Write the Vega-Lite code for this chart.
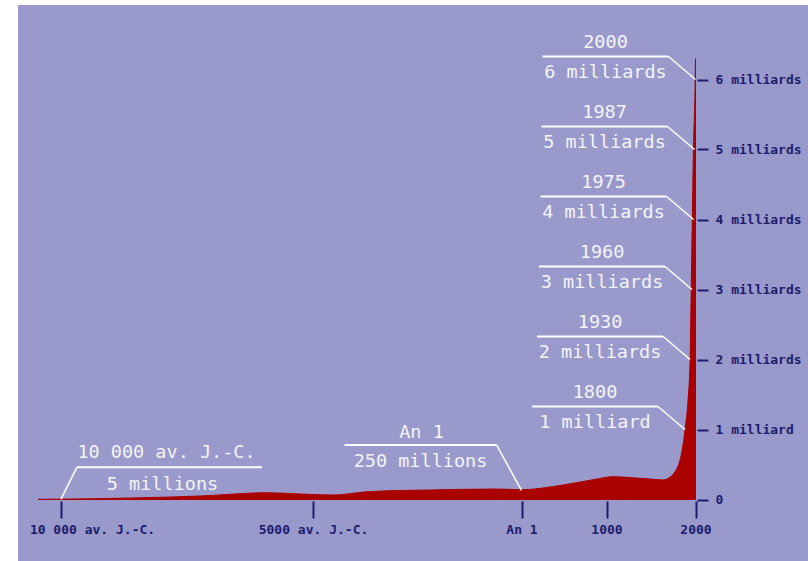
{
  "$schema": "https://vega.github.io/schema/vega-lite/v6.json",
  "width": 790,
  "height": 556,
  "autosize": {"type": "none"},
  "padding": {"left": 18, "top": 5, "right": 0, "bottom": 0},
  "background": "#ffffff",
  "config": {
    "view": {"fill": "#9999cc", "stroke": null},
    "axis": {"grid": false, "domain": false}
  },
  "datasets": {
    "population": [
      {"year": -10450, "pop": 3000000},
      {"year": -10000, "pop": 5000000},
      {"year": -8630, "pop": 21000000},
      {"year": -7240, "pop": 50000000},
      {"year": -5910, "pop": 97000000},
      {"year": -5260, "pop": 79000000},
      {"year": -4520, "pop": 64000000},
      {"year": -3700, "pop": 111000000},
      {"year": -2910, "pop": 129000000},
      {"year": -2190, "pop": 136000000},
      {"year": -590, "pop": 150000000},
      {"year": 1, "pop": 140000000},
      {"year": 490, "pop": 207000000},
      {"year": 890, "pop": 293000000},
      {"year": 1070, "pop": 326000000},
      {"year": 1260, "pop": 314000000},
      {"year": 1490, "pop": 293000000},
      {"year": 1635, "pop": 279000000},
      {"year": 1715, "pop": 321000000},
      {"year": 1770, "pop": 397000000},
      {"year": 1826, "pop": 564000000},
      {"year": 1860, "pop": 779000000},
      {"year": 1882, "pop": 993000000},
      {"year": 1916, "pop": 1420000000},
      {"year": 1939, "pop": 1990000000},
      {"year": 1958, "pop": 3520000000},
      {"year": 1964, "pop": 3990000000},
      {"year": 1976, "pop": 4950000000},
      {"year": 1995, "pop": 5890000000},
      {"year": 2000, "pop": 6300000000}
    ],
    "notesRight": [
      {"label": "2000", "value": "6 milliards", "at_year": 2000, "at_pop": 6000000000},
      {"label": "1987", "value": "5 milliards", "at_year": 1989, "at_pop": 5000000000},
      {"label": "1975", "value": "4 milliards", "at_year": 1978, "at_pop": 4000000000},
      {"label": "1960", "value": "3 milliards", "at_year": 1961, "at_pop": 3000000000},
      {"label": "1930", "value": "2 milliards", "at_year": 1939, "at_pop": 2000000000},
      {"label": "1800", "value": "1 milliard", "at_year": 1882, "at_pop": 1000000000}
    ],
    "noteAn1": [
      {"label": "An 1", "value": "250 millions", "at_year": 1, "at_pop": 130000000}
    ],
    "noteBC": [
      {"label": "10 000 av. J.-C.", "value": "5 millions", "at_year": -10000, "at_pop": 5000000}
    ]
  },
  "layer": [
    {
      "data": {"name": "population"},
      "mark": {"type": "area", "color": "#aa0000", "stroke": "#aa0000", "strokeWidth": 1, "interpolate": "monotone"},
      "encoding": {
        "x": {
          "field": "year", "type": "quantitative",
          "scale": {"type": "linear", "domain": [-10000, -5000, 1, 1000, 2000], "range": [43, 295, 503.5, 588.5, 677.5], "nice": false, "zero": false},
          "axis": {
            "orient": "bottom", "offset": -60, "title": null,
            "values": [-10000, -5000, 1, 1000, 2000],
            "labelExpr": "datum.value == -10000 ? '10 000 av. J.-C.' : datum.value == -5000 ? '5000 av. J.-C.' : datum.value == 1 ? 'An 1' : datum.value == 1000 ? '1000' : '2000'",
            "tickSize": 17, "tickWidth": 2, "tickColor": "#1c1c6c",
            "labelColor": "#1c1c6c", "labelFont": "DejaVu Sans Mono", "labelFontSize": 13, "labelFontWeight": "bold",
            "labelPadding": 5, "labelFlush": false, "labelOverlap": false,
            "labelOffset": {"condition": {"test": "datum.value == -10000", "value": 31}, "value": 0}
          }
        },
        "y": {
          "field": "pop", "type": "quantitative",
          "scale": {"domain": [0, 6000000000], "range": [494.5, 74.5], "nice": false, "zero": true},
          "axis": {
            "orient": "right", "offset": -111, "title": null,
            "values": [0, 1000000000, 2000000000, 3000000000, 4000000000, 5000000000, 6000000000],
            "labelExpr": "datum.value == 0 ? '0' : datum.value == 1000000000 ? '1 milliard' : format(datum.value / 1000000000, 'd') + ' milliards'",
            "tickSize": 11, "tickWidth": 2, "tickColor": "#1c1c6c",
            "labelColor": "#1c1c6c", "labelFont": "DejaVu Sans Mono", "labelFontSize": 13, "labelFontWeight": "bold",
            "labelPadding": 7, "labelFlush": false, "labelOverlap": false, "labelBaseline": "middle"
          }
        }
      }
    },
    {
      "data": {"name": "notesRight"},
      "mark": {"type": "rule", "color": "#ffffff", "strokeWidth": 1.5, "x2Offset": -27, "y2Offset": -23},
      "encoding": {
        "x": {"field": "at_year", "type": "quantitative"},
        "y": {"field": "at_pop", "type": "quantitative"},
        "x2": {"field": "at_year"},
        "y2": {"field": "at_pop"}
      }
    },
    {
      "data": {"name": "notesRight"},
      "mark": {"type": "rule", "color": "#ffffff", "strokeWidth": 2, "xOffset": -27, "x2Offset": -153, "yOffset": -23},
      "encoding": {
        "x": {"field": "at_year", "type": "quantitative"},
        "x2": {"field": "at_year"},
        "y": {"field": "at_pop", "type": "quantitative"}
      }
    },
    {
      "data": {"name": "notesRight"},
      "mark": {"type": "text", "color": "#f4f4fa", "font": "DejaVu Sans Mono", "fontSize": 18.5, "align": "center", "baseline": "middle", "dx": -90, "dy": -38},
      "encoding": {
        "x": {"field": "at_year", "type": "quantitative"},
        "y": {"field": "at_pop", "type": "quantitative"},
        "text": {"field": "label"}
      }
    },
    {
      "data": {"name": "notesRight"},
      "mark": {"type": "text", "color": "#f4f4fa", "font": "DejaVu Sans Mono", "fontSize": 18.5, "align": "center", "baseline": "middle", "dx": -90, "dy": -7.5},
      "encoding": {
        "x": {"field": "at_year", "type": "quantitative"},
        "y": {"field": "at_pop", "type": "quantitative"},
        "text": {"field": "value"}
      }
    },
    {
      "data": {"name": "noteAn1"},
      "mark": {"type": "rule", "color": "#ffffff", "strokeWidth": 1.5, "x2Offset": -25, "y2Offset": -45.5},
      "encoding": {
        "x": {"field": "at_year", "type": "quantitative"},
        "y": {"field": "at_pop", "type": "quantitative"},
        "x2": {"field": "at_year"},
        "y2": {"field": "at_pop"}
      }
    },
    {
      "data": {"name": "noteAn1"},
      "mark": {"type": "rule", "color": "#ffffff", "strokeWidth": 2, "xOffset": -25, "x2Offset": -177, "yOffset": -45.5},
      "encoding": {
        "x": {"field": "at_year", "type": "quantitative"},
        "x2": {"field": "at_year"},
        "y": {"field": "at_pop", "type": "quantitative"}
      }
    },
    {
      "data": {"name": "noteAn1"},
      "mark": {"type": "text", "color": "#f4f4fa", "font": "DejaVu Sans Mono", "fontSize": 18.5, "align": "center", "baseline": "middle", "dx": -100, "dy": -58},
      "encoding": {
        "x": {"field": "at_year", "type": "quantitative"},
        "y": {"field": "at_pop", "type": "quantitative"},
        "text": {"field": "label"}
      }
    },
    {
      "data": {"name": "noteAn1"},
      "mark": {"type": "text", "color": "#f4f4fa", "font": "DejaVu Sans Mono", "fontSize": 18.5, "align": "center", "baseline": "middle", "dx": -101, "dy": -29},
      "encoding": {
        "x": {"field": "at_year", "type": "quantitative"},
        "y": {"field": "at_pop", "type": "quantitative"},
        "text": {"field": "value"}
      }
    },
    {
      "data": {"name": "noteBC"},
      "mark": {"type": "rule", "color": "#ffffff", "strokeWidth": 1.5, "x2Offset": 16, "y2Offset": -32},
      "encoding": {
        "x": {"field": "at_year", "type": "quantitative"},
        "y": {"field": "at_pop", "type": "quantitative"},
        "x2": {"field": "at_year"},
        "y2": {"field": "at_pop"}
      }
    },
    {
      "data": {"name": "noteBC"},
      "mark": {"type": "rule", "color": "#ffffff", "strokeWidth": 2, "xOffset": 16, "x2Offset": 201, "yOffset": -32},
      "encoding": {
        "x": {"field": "at_year", "type": "quantitative"},
        "x2": {"field": "at_year"},
        "y": {"field": "at_pop", "type": "quantitative"}
      }
    },
    {
      "data": {"name": "noteBC"},
      "mark": {"type": "text", "color": "#f4f4fa", "font": "DejaVu Sans Mono", "fontSize": 18.5, "align": "center", "baseline": "middle", "dx": 105.5, "dy": -47},
      "encoding": {
        "x": {"field": "at_year", "type": "quantitative"},
        "y": {"field": "at_pop", "type": "quantitative"},
        "text": {"field": "label"}
      }
    },
    {
      "data": {"name": "noteBC"},
      "mark": {"type": "text", "color": "#f4f4fa", "font": "DejaVu Sans Mono", "fontSize": 18.5, "align": "center", "baseline": "middle", "dx": 101.5, "dy": -15.5},
      "encoding": {
        "x": {"field": "at_year", "type": "quantitative"},
        "y": {"field": "at_pop", "type": "quantitative"},
        "text": {"field": "value"}
      }
    }
  ]
}
